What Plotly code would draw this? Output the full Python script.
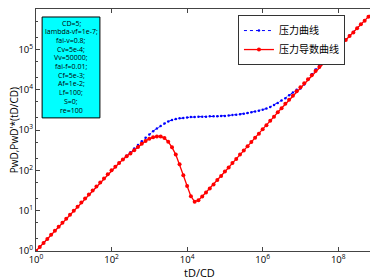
"""Pressure and derivative type curves, log-log (PwD vs tD/CD)."""
import plotly.graph_objects as go

FONT = "Open Sans, Noto Sans CJK SC, sans-serif"

# log10(tD/CD), one point per 0.1 decade
log_td = [
    0.0, 0.1, 0.2, 0.3, 0.4, 0.5, 0.6, 0.7, 0.8, 0.9,
    1.0, 1.1, 1.2, 1.3, 1.4, 1.5, 1.6, 1.7, 1.8, 1.9,
    2.0, 2.1, 2.2, 2.3, 2.4, 2.5, 2.6, 2.7, 2.8, 2.9,
    3.0, 3.1, 3.2, 3.3, 3.4, 3.5, 3.6, 3.7, 3.8, 3.9,
    4.0, 4.1, 4.2, 4.3, 4.4, 4.5, 4.6, 4.7, 4.8, 4.9,
    5.0, 5.1, 5.2, 5.3, 5.4, 5.5, 5.6, 5.7, 5.8, 5.9,
    6.0, 6.1, 6.2, 6.3, 6.4, 6.5, 6.6, 6.7, 6.8, 6.9,
    7.0, 7.1, 7.2, 7.3, 7.4, 7.5, 7.6, 7.7, 7.8, 7.9,
    8.0, 8.1, 8.2, 8.3, 8.4, 8.5, 8.6, 8.7, 8.8, 8.9,
    9.0,
]

# log10(PwD) - pressure curve
log_pwd = [
    0.0, 0.1, 0.2, 0.3, 0.4, 0.5, 0.6, 0.7, 0.8, 0.9,
    1.0, 1.1, 1.2, 1.3, 1.4, 1.5, 1.6, 1.7, 1.8, 1.9,
    2.0, 2.09, 2.18, 2.27, 2.36, 2.45, 2.54, 2.63, 2.72, 2.81,
    2.89, 2.97, 3.04, 3.10, 3.16, 3.21, 3.25, 3.27, 3.29, 3.30,
    3.31, 3.32, 3.32, 3.33, 3.33, 3.33, 3.34, 3.34, 3.34, 3.35,
    3.35, 3.36, 3.37, 3.38, 3.39, 3.40, 3.42, 3.44, 3.46, 3.48,
    3.50, 3.53, 3.57, 3.62, 3.67, 3.73, 3.79, 3.86, 3.93, 4.00,
    4.03, 4.13, 4.25, 4.38, 4.50, 4.60, 4.69, 4.78, 4.87, 4.96,
    5.05, 5.15, 5.24, 5.34, 5.43, 5.53, 5.62, 5.72, 5.81, 5.91,
    6.00,
]

# log10(PwD' * tD/CD) - derivative curve
log_dpwd = [
    0.0, 0.1, 0.2, 0.3, 0.4, 0.5, 0.6, 0.7, 0.8, 0.9,
    1.0, 1.1, 1.2, 1.3, 1.4, 1.5, 1.6, 1.7, 1.8, 1.9,
    2.0, 2.09, 2.18, 2.27, 2.35, 2.42, 2.50, 2.58, 2.66, 2.73,
    2.78, 2.82, 2.84, 2.84, 2.80, 2.71, 2.57, 2.39, 2.15, 1.88,
    1.61, 1.36, 1.22, 1.26, 1.35, 1.45, 1.55, 1.65, 1.76, 1.86,
    1.97, 2.07, 2.18, 2.28, 2.39, 2.49, 2.60, 2.70, 2.81, 2.91,
    3.02, 3.12, 3.23, 3.33, 3.44, 3.54, 3.65, 3.75, 3.85, 3.96,
    4.06, 4.16, 4.26, 4.36, 4.46, 4.56, 4.66, 4.75, 4.85, 4.95,
    5.04, 5.14, 5.23, 5.33, 5.42, 5.52, 5.62, 5.71, 5.81, 5.90,
    6.00,
]

params = [
    "CD=5;", "lambda-vf=1e-7;", "fai-v=0.8;", "Cv=5e-4;", "Vv=50000;",
    "fai-f=0.01;", "Cf=5e-3;", "Af=1e-2;", "Lf=100;", "S=0;", "re=100",
]

x_ticks = [1, 1e2, 1e4, 1e6, 1e8]
x_labels = ["10<sup>0</sup>", "10<sup>2</sup>", "10<sup>4</sup>",
            "10<sup>6</sup>", "10<sup>8</sup>"]
y_ticks = [1, 1e1, 1e2, 1e3, 1e4, 1e5, 1e6]
y_labels = ["10<sup>%d</sup>" % i for i in range(7)]

td = [10 ** v for v in log_td]
pwd = [10 ** v for v in log_pwd]
dpwd = [10 ** v for v in log_dpwd]

fig = go.Figure()
fig.add_trace(go.Scatter(
    x=td, y=pwd, name="压力曲线", mode="lines+markers",
    line=dict(color="#0000FF", width=1, dash="dot"),
    marker=dict(color="#0000FF", size=2.5),
))
fig.add_trace(go.Scatter(
    x=td, y=dpwd, name="压力导数曲线", mode="lines+markers",
    line=dict(color="#FF0000", width=1.3),
    marker=dict(color="#FF0000", size=4),
))

# parameter box: one line of text per parameter, 8.7px apart
fig.add_shape(type="rect", xref="paper", yref="paper", layer="below",
              x0=0.018, x1=0.188, y0=0.55, y1=0.967,
              fillcolor="#00FFFF", line=dict(color="black", width=1))
for i, line in enumerate(params):
    fig.add_annotation(xref="paper", yref="paper", x=0.103,
                       y=(228 - 8.7 * i) / 242,
                       xanchor="center", yanchor="middle",
                       text=line, showarrow=False,
                       font=dict(family=FONT, size=7, color="black"))

# axis titles
fig.add_annotation(xref="paper", yref="paper", x=0.48, y=-0.09,
                   xanchor="center", yanchor="middle", showarrow=False,
                   text="tD/CD", font=dict(family=FONT, size=11, color="black"))
fig.add_annotation(xref="paper", yref="paper", x=-0.064, y=0.5,
                   xanchor="center", yanchor="middle", showarrow=False,
                   textangle=-90, text="PwD,PwD'*(tD/CD)",
                   font=dict(family=FONT, size=10, color="black"))

axis_common = dict(
    type="log", showgrid=False, zeroline=False, automargin=False,
    showline=True, linecolor="#444444", linewidth=1, mirror="ticks",
    ticks="inside", ticklen=4, tickcolor="#444444",
)

fig.update_xaxes(**axis_common, range=[0, 9],
                 tickvals=x_ticks, ticktext=x_labels,
                 tickfont=dict(family=FONT, size=9.5, color="black"))
fig.update_yaxes(**axis_common, range=[0, 6],
                 tickvals=y_ticks, ticktext=y_labels,
                 tickfont=dict(family=FONT, size=9.5, color="black"),
                 minor=dict(ticks="inside", ticklen=2, tickcolor="#444444"))

# page body adds an 8px offset, so the figure is 8px smaller than the window
fig.update_layout(
    width=370, height=271,
    margin=dict(l=28, r=2, t=1, b=28),
    plot_bgcolor="white", paper_bgcolor="white",
    font=dict(family=FONT, color="black"),
    legend=dict(x=0.594, y=0.975, xanchor="left", yanchor="top",
                bgcolor="white", bordercolor="#333333", borderwidth=1,
                font=dict(family=FONT, size=10), itemwidth=30,
                tracegroupgap=0),
)

fig.write_html("out.html")
